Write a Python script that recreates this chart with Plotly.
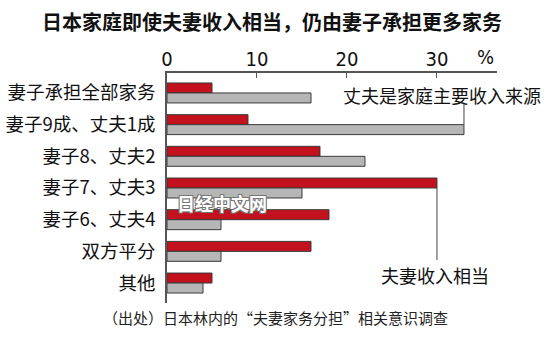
import plotly.graph_objects as go

categories = ["妻子承担全部家务", "妻子9成、丈夫1成", "妻子8、丈夫2", "妻子7、丈夫3",
              "妻子6、丈夫4", "双方平分", "其他"]
equal_income = [5, 9, 17, 30, 18, 16, 5]        # red bars: 夫妻收入相当
husband_main = [16, 33, 22, 15, 6, 6, 4]        # gray bars: 丈夫是家庭主要收入来源
x_ticks = [0, 10, 20, 30]

CJK = "Noto Sans CJK SC, Noto Sans, sans-serif"
NARROW = "Liberation Sans Narrow, DejaVu Sans Condensed, sans-serif"

fig = go.Figure()
fig.add_trace(go.Bar(
    y=categories, x=equal_income, orientation="h", name="夫妻收入相当",
    marker=dict(color="#c3121e", line=dict(color="#3a3a3a", width=1)),
))
fig.add_trace(go.Bar(
    y=categories, x=husband_main, orientation="h", name="丈夫是家庭主要收入来源",
    marker=dict(color="#b6b6b6", line=dict(color="#3a3a3a", width=1)),
))

fig.update_layout(
    width=550, height=357,
    margin=dict(l=167, r=53, t=73, b=54, autoexpand=False),
    paper_bgcolor="white", plot_bgcolor="white",
    barmode="group", bargap=0.37, bargroupgap=0,
    showlegend=False,
    font=dict(family=CJK, color="#111"),
    title=dict(text="<b>日本家庭即使夫妻收入相当，仍由妻子承担更多家务</b>",
               x=272/550, xref="container", xanchor="center",
               y=1 - 23/357, yref="container", yanchor="middle",
               font=dict(size=20, family=CJK, color="#111")),
    xaxis=dict(side="top", range=[0, 36.67], tickvals=x_ticks,
               ticktext=[str(v) for v in x_ticks], automargin=False,
               ticks="inside", ticklen=5, tickcolor="#555", tickwidth=1,
               showline=True, linecolor="#555", linewidth=1.5,
               showgrid=False, zeroline=False,
               ticklabelstandoff=-3,
               tickfont=dict(family=NARROW, size=20, color="#111")),
    yaxis=dict(type="category", range=[6.63, -0.63], automargin=False,
               showline=True, linecolor="#555", linewidth=1.5,
               showgrid=False, zeroline=False, ticks="",
               ticklabelstandoff=6,
               tickfont=dict(family=CJK, size=18.5, color="#111")),
)

# leader lines
fig.add_shape(type="line", xref="x", yref="y", x0=33, x1=33, y0=0.32, y1=1.0,
              line=dict(color="#444", width=1))
fig.add_shape(type="line", xref="x", yref="y", x0=30, x1=30, y0=3.0, y1=5.27,
              line=dict(color="#444", width=1))

fig.add_annotation(text="丈夫是家庭主要收入来源", xref="x", yref="y", x=30.6, y=0.064,
                   showarrow=False, xanchor="center", yanchor="middle",
                   font=dict(size=18, family=CJK, color="#111"))
fig.add_annotation(text="夫妻收入相当", xref="x", yref="y", x=29.8, y=5.74,
                   showarrow=False, xanchor="center", yanchor="middle",
                   font=dict(size=18, family=CJK, color="#111"))
fig.add_annotation(text="%", xref="paper", yref="paper", x=(485-167)/330, y=1 + (73-57)/230,
                   showarrow=False, xanchor="center", yanchor="middle",
                   font=dict(size=20, family=NARROW, color="#111"))
fig.add_annotation(text="<b>日经中文网</b>", xref="paper", yref="paper",
                   x=(222-167)/330, y=1 - (203-73)/230,
                   showarrow=False, xanchor="center", yanchor="middle",
                   font=dict(size=18, family=CJK, color="white",
                             shadow="-1px -1px 0 #777, 1px -1px 0 #777, -1px 1px 0 #777, 1px 1px 0 #777"))
fig.add_annotation(text="（出处）日本林内的“夫妻家务分担”相关意识调查", xref="paper", yref="paper",
                   x=(275-167)/330, y=-(317-303)/230,
                   showarrow=False, xanchor="center", yanchor="middle",
                   font=dict(size=15, family=CJK, color="#222"))

fig.write_html("out.html", config={"displayModeBar": False})

# remove the default page margin so the figure sits at the window's top-left corner
with open("out.html", encoding="utf-8") as f:
    html = f.read()
html = html.replace("<body>", '<body style="margin:0;">', 1)
with open("out.html", "w", encoding="utf-8") as f:
    f.write(html)
